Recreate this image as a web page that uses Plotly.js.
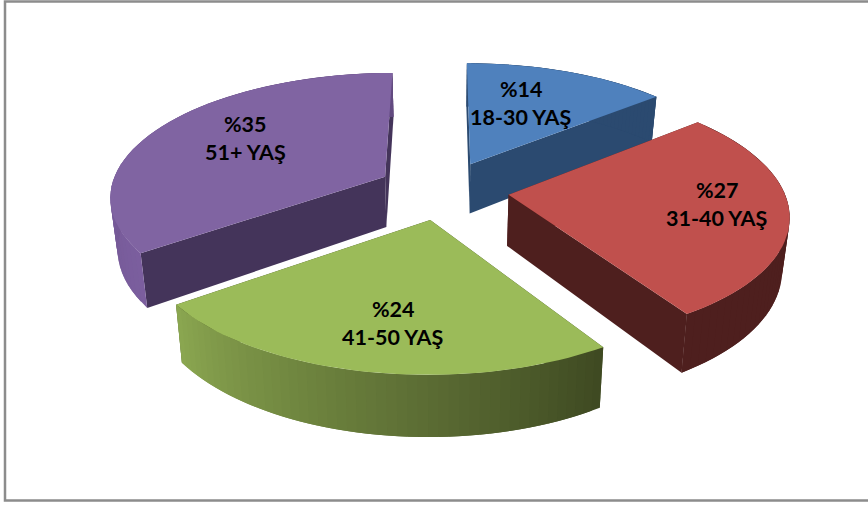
<!DOCTYPE html>
<html>
<head>
<meta charset="utf-8">
<script src="https://cdn.plot.ly/plotly-3.0.1.min.js"></script>
<style>html,body{margin:0;padding:0;background:#fff;overflow:hidden}#chart{width:868px;height:505px}</style>
</head>
<body>
<div id="chart"></div>
<script>
// Data
const categories = ['18-30 YAŞ', '31-40 YAŞ', '41-50 YAŞ', '51+ YAŞ'];
const shares = [14, 27, 24, 35];

// Styling
const topColors = ['#4f81bd', '#c0504d', '#9bbb59', '#8064a2'];
const radialColors = ['#2b4a70', '#4e1f1e', '#3f4a22', '#44345a'];
const wallFrom = ['#2b4a70', '#4e1f1e', '#3f4a22', '#7b5e9e'];
const wallTo = ['#2b4a70', '#4e1f1e', '#8aa650', '#624a80'];
const drawOrder = [0, 3, 1, 2];
const labelX = [521, 717, 393, 245];
const labelY = [103, 204, 323, 138];

// Perspective projection of the 3D pie
const vanishX = 443, horizonY = -650, planeY = 190;
const radiusX = 275, focal = 6.85, pull = 0.24;
const depth = 51, lean = 0.978;

function hex(c){return [1,3,5].map(i=>parseInt(c.substr(i,2),16));}
function mix(a,b,t){const A=hex(a),B=hex(b);return 'rgb('+A.map((v,i)=>Math.round(v+(B[i]-v)*t)).join(',')+')';}

function project(X, Z){
  const s = 1/(1+Z/focal);
  return {x: vanishX+radiusX*X*s, y: horizonY+(planeY-horizonY)*s, s: s};
}
function lower(p){
  return {x: vanishX+(p.x-vanishX)*lean, y: p.y+depth*p.s};
}
function rim(sl, th){
  return project(sl.ox+Math.sin(th), sl.oz+Math.cos(th));
}
function poly(pts, color, width){
  const xs=pts.map(p=>p.x), ys=pts.map(p=>p.y);
  xs.push(xs[0]); ys.push(ys[0]);
  return {type:'scatter',mode:'lines',x:xs,y:ys,fill:'toself',fillcolor:color,
          line:{color:color,width:width},hoverinfo:'skip',showlegend:false};
}

const total = shares.reduce((a,b)=>a+b,0);
let acc=0;
const slices = shares.map((s,i)=>{
  const a0=acc/total*2*Math.PI; acc+=s; const a1=acc/total*2*Math.PI;
  const mid=(a0+a1)/2;
  return {i,a0,a1,ox:pull*Math.sin(mid),oz:pull*Math.cos(mid)};
});

const traces=[];
drawOrder.forEach(k=>{
  const sl=slices[k], apex=project(sl.ox,sl.oz);
  const steps=48, arc=[];
  for(let j=0;j<=steps;j++) arc.push(rim(sl, sl.a0+(sl.a1-sl.a0)*j/steps));
  const apexLow=lower(apex);
  // radial cut faces
  [arc[0],arc[steps]].forEach(p=>{
    traces.push(poly([apex,p,lower(p),apexLow],radialColors[k],0));
  });
  // outer wall: each strip overlaps the next so no seams show
  for(let j=0;j<steps;j++){
    const q=arc[Math.min(j+2,steps)], m=arc[j+1], p=arc[j];
    traces.push(poly([p,m,q,lower(q),lower(m),lower(p)],mix(wallFrom[k],wallTo[k],j/(steps-1)),0));
  }
  // top face
  traces.push(poly([apex].concat(arc),topColors[k],0));
});

const font={family:'Lato, Carlito, Calibri, sans-serif',size:21.5,color:'#000000',weight:700};
const annotations=[];
categories.forEach((c,i)=>{
  annotations.push({x:labelX[i],y:labelY[i]-14,text:'<b>%'+shares[i]+'</b>',showarrow:false,font:font,xref:'x',yref:'y'});
  annotations.push({x:labelX[i],y:labelY[i]+14,text:'<b>'+c+'</b>',showarrow:false,font:font,xref:'x',yref:'y'});
});

const axis={visible:false,fixedrange:true,showgrid:false,zeroline:false};
Plotly.newPlot('chart',traces,{
  width:868,height:505,margin:{l:0,r:0,t:0,b:0},
  paper_bgcolor:'#ffffff',plot_bgcolor:'#ffffff',showlegend:false,
  xaxis:Object.assign({range:[0,868]},axis),
  yaxis:Object.assign({range:[505,0]},axis),
  annotations:annotations,
  shapes:[{type:'rect',xref:'x',yref:'y',x0:5,y0:1.5,x1:880,y1:500.5,line:{color:'#8c8c8c',width:2.5},fillcolor:'rgba(0,0,0,0)',layer:'below'}]
},{staticPlot:true,displayModeBar:false});
</script>
</body>
</html>
